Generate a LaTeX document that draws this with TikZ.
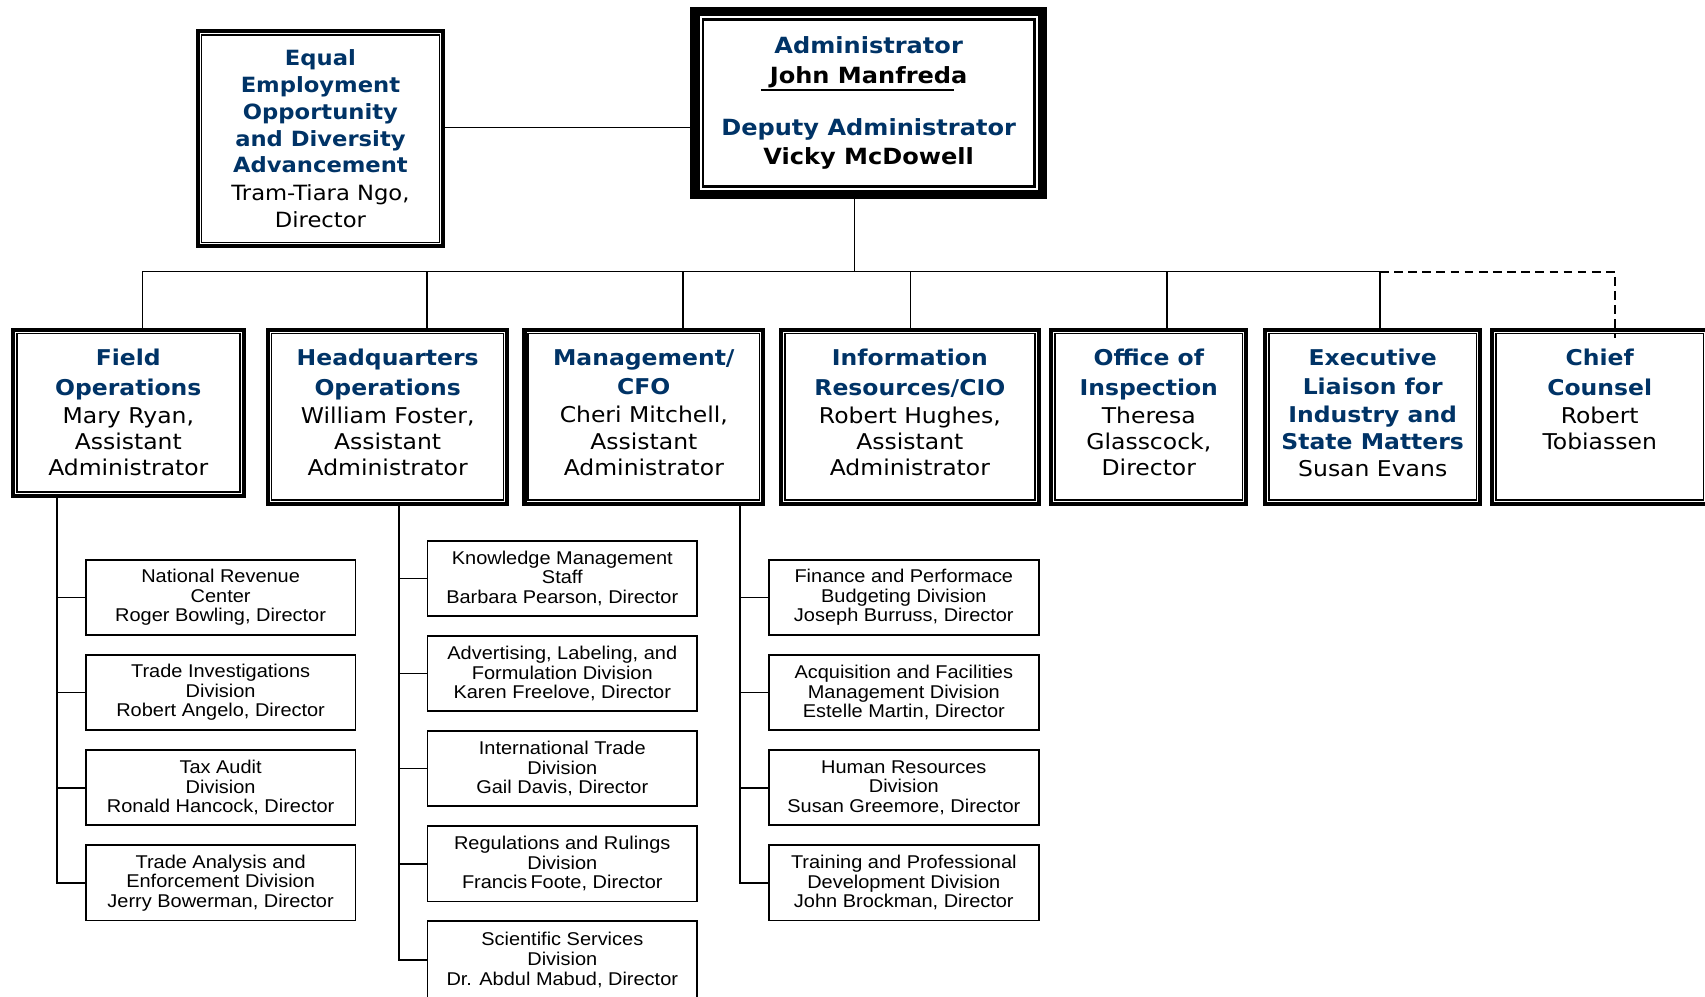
\documentclass[tikz,border=0pt]{standalone}
\usepackage{fontspec}
\newfontfamily\vfont{DejaVu Sans}[FakeStretch=1.08]
\newfontfamily\afont{Liberation Sans}[FakeStretch=1.08]
\usetikzlibrary{positioning}
\definecolor{hdblue}{RGB}{0,51,102}
\newcommand\hd[1]{{\bfseries\color{hdblue}#1}}
\tikzset{
frame/.style={draw, line width=3.7pt, outer sep=0pt, inner sep=0pt, align=center,
  append after command={\pgfextra{\let\frnode\tikzlastnode
    \draw[line width=1.5pt] ([shift={(3.5pt,-3.5pt)}]\frnode.north west) rectangle ([shift={(-3.5pt,3.5pt)}]\frnode.south east);}}},
bigframe/.style={draw, line width=8.3pt, outer sep=0pt, inner sep=0pt, align=center,
  append after command={\pgfextra{\let\frnode\tikzlastnode
    \draw[gray!60, line width=0.6pt] ([shift={(-1.1pt,1.1pt)}]\frnode.north west) rectangle ([shift={(1.1pt,-1.1pt)}]\frnode.south east);
    \draw[line width=2.4pt] ([shift={(7.45pt,-7.45pt)}]\frnode.north west) rectangle ([shift={(-7.45pt,7.45pt)}]\frnode.south east);}}},
rowbox/.style={frame, minimum height=160pt},
boxtext/.style={align=center, inner sep=0pt, font=\vfont\fontsize{20}{24}\selectfont},
divbox/.style={draw, line width=1.6pt, outer sep=0pt, inner sep=0pt, align=center,
  minimum width=248pt, minimum height=69.2pt, font=\afont\fontsize{17}{18}\selectfont},
link/.style={line width=1.5pt},
}

\begin{document}
\begin{tikzpicture}[x=1pt, y=-1pt]
    \useasboundingbox (0,0) rectangle (1568,916);

    % top
    \node[frame, minimum width=225.7pt, minimum height=197.7pt,
          font=\vfont\fontsize{19.3}{24.6}\selectfont] (eeo) at (294.7,127.7)
        {\hd{Equal}\\\hd{Employment}\\\hd{Opportunity}\\\hd{and Diversity}\\\hd{Advancement}\\[1pt]Tram-Tiara Ngo,\\Director};
    \node[bigframe, minimum width=319.4pt, minimum height=168.5pt,
          font=\vfont\fontsize{20.5}{27}\selectfont] (ad) at (798.85,94.9)
        {\hd{Administrator}\\\textbf{John Manfreda}\\[21pt]\hd{Deputy Administrator}\\\textbf{Vicky McDowell}};
    \draw[line width=1.2pt] (699.8,82.8) -- (877.2,82.8);

    % second row
    \node[frame, minimum width=212.3pt, minimum height=153pt] (fo) at (118,379.65) {};
    \node[rowbox, minimum width=220.3pt] (hq) at (356.5,383.15) {};
    \node[rowbox, minimum width=219.5pt] (mg) at (592.1,383.15) {};
    \node[rowbox, minimum width=236.8pt] (ir) at (836.75,383.15) {};
    \node[rowbox, minimum width=179.3pt] (oi) at (1056.5,383.15) {};
    \node[rowbox, minimum width=198.1pt] (el) at (1262.4,383.15) {};
    \node[rowbox, minimum width=198pt] (cc) at (1471.15,383.15) {};

    \node[boxtext, below=18pt of fo.north] (fo-t) {\hd{Field}\\[3pt]\hd{Operations}\\[2pt]Mary Ryan,\\Assistant\\Administrator};
    \node[boxtext, below=18pt of hq.north] (hq-t) {\hd{Headquarters}\\[3pt]\hd{Operations}\\[2pt]William Foster,\\Assistant\\Administrator};
    \node[boxtext, below=18pt of mg.north] (mg-t) {\hd{Management/}\\[3pt]\hd{CFO}\\[2pt]Cheri Mitchell,\\Assistant\\Administrator};
    \node[boxtext, below=18pt of ir.north] (ir-t) {\hd{Information}\\[3pt]\hd{Resources/CIO}\\[2pt]Robert Hughes,\\Assistant\\Administrator};
    \node[boxtext, below=18pt of oi.north] (oi-t) {\hd{Office of}\\[3pt]\hd{Inspection}\\[2pt]Theresa\\Glasscock,\\Director};
    \node[boxtext, below=18pt of el.north] (el-t) {\hd{Executive}\\[2pt]\hd{Liaison for}\\[2pt]\hd{Industry and}\\[1pt]\hd{State Matters}\\[1pt]Susan Evans};
    \node[boxtext, below=18pt of cc.north] (cc-t) {\hd{Chief}\\[3pt]\hd{Counsel}\\[2pt]Robert\\Tobiassen};

    % divisions
    \node[divbox] (nr) at (202.9,549.4) {National Revenue\\Center\\Roger Bowling, Director};
    \node[divbox, below=18.3pt of nr] (ti) {Trade Investigations\\Division\\Robert Angelo, Director};
    \node[divbox, below=18.3pt of ti] (tx) {Tax Audit\\Division\\Ronald Hancock, Director};
    \node[divbox, below=18.3pt of tx] (ta) {Trade Analysis and\\Enforcement Division\\Jerry Bowerman, Director};

    \node[divbox] (km) at (517.1,531.9) {Knowledge Management\\Staff\\Barbara Pearson, Director};
    \node[divbox, below=18.3pt of km] (al) {Advertising, Labeling, and\\Formulation Division\\Karen Freelove, Director};
    \node[divbox, below=18.3pt of al] (it) {International Trade\\Division\\Gail Davis, Director};
    \node[divbox, below=18.3pt of it] (rr) {Regulations and Rulings\\Division\\Francis\,Foote, Director};
    \node[divbox, below=18.3pt of rr, minimum height=71pt] (ss) {Scientific Services\\Division\\Dr. Abdul Mabud, Director};

    \node[divbox] (fp) at (831.2,549.4) {Finance and Performace\\Budgeting Division\\Joseph Burruss, Director};
    \node[divbox, below=18.3pt of fp] (af) {Acquisition and Facilities\\Management Division\\Estelle Martin, Director};
    \node[divbox, below=18.3pt of af] (hr) {Human Resources\\Division\\Susan Greemore, Director};
    \node[divbox, below=18.3pt of hr] (tp) {Training and Professional\\Development Division\\John Brockman, Director};

    % bus
    \coordinate (bus-ad) at (785.7,249.8);
    \coordinate (bus-fo) at (131,249.8);
    \coordinate (bus-hq) at (392.8,249.8);
    \coordinate (bus-mg) at (628.2,249.8);
    \coordinate (bus-ir) at (837.3,249.8);
    \coordinate (bus-oi) at (1073,249.8);
    \coordinate (bus-el) at (1269,249.8);
    \coordinate (cc-in) at (1485.2,311);
    \coordinate (eeo-l) at (409.4,117.4);

    \draw[link] (eeo-l) -- (eeo-l -| ad.west);
    \draw[link] (bus-ad |- ad.south) -- (bus-ad);
    \draw[link] (bus-fo) -- (bus-el);
    \draw[link] (bus-fo) -- (bus-fo |- fo.north);
    \draw[link] (bus-hq) -- (bus-hq |- hq.north);
    \draw[link] (bus-mg) -- (bus-mg |- mg.north);
    \draw[link] (bus-ir) -- (bus-ir |- ir.north);
    \draw[link] (bus-oi) -- (bus-oi |- oi.north);
    \draw[link] (bus-el) -- (bus-el |- el.north);
    \draw[line width=2pt, dashed, dash pattern=on 8pt off 5pt] (bus-el) -| (cc-in);

    % spines
    \coordinate (sp-fo) at (52.6,456.2);
    \coordinate (sp-hq) at (366.9,463.2);
    \coordinate (sp-mg) at (680.3,463.2);

    \draw[link] (sp-fo) |- (ta.west);
    \draw[link] (nr.west) -- (nr.west -| sp-fo);
    \draw[link] (ti.west) -- (ti.west -| sp-fo);
    \draw[link] (tx.west) -- (tx.west -| sp-fo);

    \draw[link] (sp-hq) |- (ss.west);
    \draw[link] (km.west) -- (km.west -| sp-hq);
    \draw[link] (al.west) -- (al.west -| sp-hq);
    \draw[link] (it.west) -- (it.west -| sp-hq);
    \draw[link] (rr.west) -- (rr.west -| sp-hq);

    \draw[link] (sp-mg) |- (tp.west);
    \draw[link] (fp.west) -- (fp.west -| sp-mg);
    \draw[link] (af.west) -- (af.west -| sp-mg);
    \draw[link] (hr.west) -- (hr.west -| sp-mg);

\end{tikzpicture}
\end{document}
